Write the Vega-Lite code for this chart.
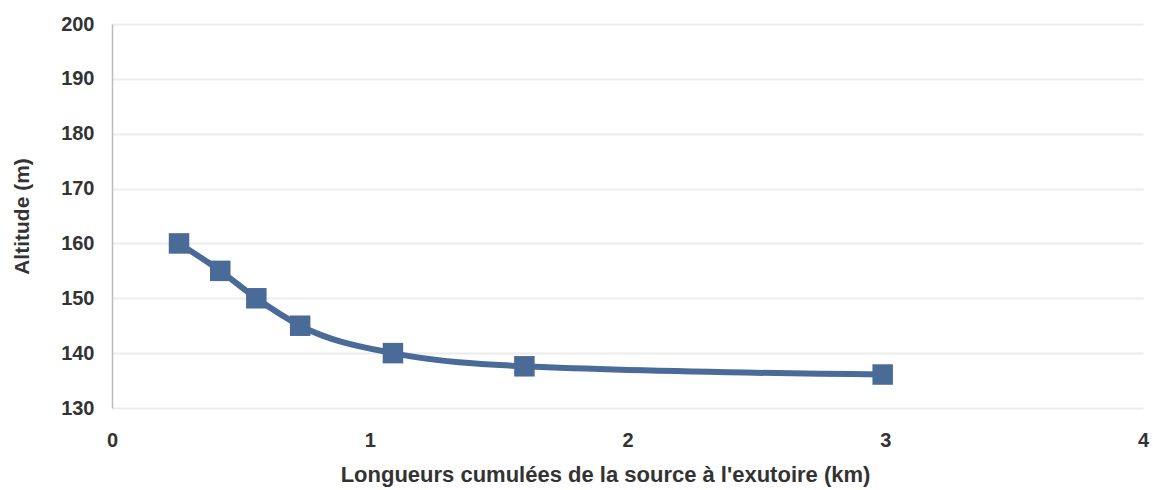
{
  "$schema": "https://vega.github.io/schema/vega-lite/v6.json",
  "autosize": {"type": "none"},
  "padding": {"left": 112, "top": 24, "right": 10, "bottom": 82},
  "width": 1031,
  "height": 384,
  "background": "white",
  "data": {"values": [
    {"longueur": 0.26, "altitude": 160},
    {"longueur": 0.42, "altitude": 155},
    {"longueur": 0.56, "altitude": 150},
    {"longueur": 0.73, "altitude": 145},
    {"longueur": 1.09, "altitude": 140},
    {"longueur": 1.6, "altitude": 137.6},
    {"longueur": 2.99, "altitude": 136.1}
  ]},
  "config": {
    "view": {"stroke": null},
    "axis": {
      "labelFont": "Liberation Sans",
      "titleFont": "Liberation Sans",
      "labelFontSize": 20,
      "labelColor": "#333333",
      "titleColor": "#333333",
      "labelFontWeight": "bold",
      "titleFontWeight": "bold"
    }
  },
  "mark": {"type": "line", "interpolate": "monotone", "color": "#4a6a98", "strokeWidth": 6, "point": {"shape": "square", "size": 420, "filled": true, "color": "#4a6a98", "opacity": 1}},
  "encoding": {
    "x": {
      "field": "longueur", "type": "quantitative",
      "scale": {"domain": [0, 4], "nice": false},
      "axis": {"title": "Longueurs cumulées de la source à l'exutoire (km)", "titleFontSize": 22, "titleX": 493, "values": [0, 1, 2, 3, 4], "format": "d", "labelFlush": false, "grid": false, "domain": false, "ticks": false, "labelPadding": 22, "titlePadding": 14}
    },
    "y": {
      "field": "altitude", "type": "quantitative",
      "scale": {"domain": [130, 200], "nice": false, "zero": false},
      "axis": {"title": "Altitude (m)", "titleFontSize": 21, "values": [130, 140, 150, 160, 170, 180, 190, 200], "labelFlush": false, "grid": true, "gridColor": "#ececec", "gridWidth": 2, "domain": true, "domainColor": "#bbbbbb", "domainWidth": 1.5, "ticks": false, "labelPadding": 18, "titlePadding": 28}
    }
  }
}
